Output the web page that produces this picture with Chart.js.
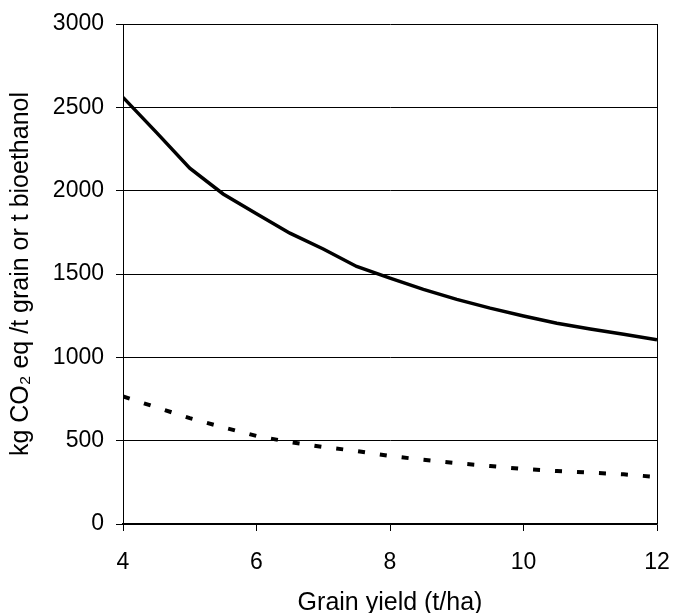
<!DOCTYPE html>
<html>
<head>
<meta charset="utf-8">
<script src="https://cdn.jsdelivr.net/npm/chart.js@4.4.0/dist/chart.umd.min.js"></script>
<style>
  body { margin: 0; background: #fff; }
  canvas { display: block; }
</style>
</head>
<body>
<canvas id="chart" width="673" height="613"></canvas>
<script>
// grain yield (t/ha)
const yields = [4, 4.5, 5, 5.5, 6, 6.5, 7, 7.5, 8, 8.5, 9, 9.5, 10, 10.5, 11, 11.5, 12];
// kg CO2 eq per t bioethanol (solid)
const perBioethanol = [2560, 2350, 2135, 1980, 1862, 1745, 1650, 1545, 1475, 1408, 1348, 1295, 1248, 1205, 1170, 1138, 1105];
// kg CO2 eq per t grain (dashed)
const perGrain = [765, 700, 635, 580, 528, 492, 462, 438, 408, 385, 365, 348, 330, 318, 308, 298, 282];

const xTicks = [4, 6, 8, 10, 12];

function pts(ys) {
  return yields.map((x, i) => ({ x: x, y: ys[i] }));
}

// right edge of the plot box
const frame = {
  id: 'frame',
  afterDraw(chart) {
    const a = chart.chartArea;
    const c = chart.ctx;
    c.save();
    c.strokeStyle = '#000';
    c.lineWidth = 1;
    c.beginPath();
    c.moveTo(a.right + 0.5, a.top);
    c.lineTo(a.right + 0.5, a.bottom);
    c.stroke();
    c.restore();
  }
};

const font = 'Liberation Sans, Arial, sans-serif';

new Chart(document.getElementById('chart').getContext('2d'), {
  type: 'line',
  data: {
    datasets: [
      {
        data: pts(perBioethanol),
        borderColor: '#000',
        borderWidth: 3.5,
        pointRadius: 0,
        tension: 0,
        fill: false
      },
      {
        data: pts(perGrain),
        borderColor: '#000',
        borderWidth: 4,
        borderDash: [7, 15],
        pointRadius: 0,
        tension: 0,
        fill: false
      }
    ]
  },
  options: {
    responsive: false,
    animation: false,
    layout: { padding: { left: 0, right: 16, top: 24, bottom: 0 } },
    plugins: { legend: { display: false }, tooltip: { enabled: false } },
    scales: {
      x: {
        type: 'linear',
        min: 4,
        max: 12,
        afterBuildTicks: s => { s.ticks = xTicks.map(v => ({ value: v })); },
        afterFit: s => { s.height = 89; s.paddingLeft = 0; s.paddingRight = 0; },
        grid: { drawOnChartArea: false, color: '#000', tickLength: 7 },
        border: { color: '#000', width: 1.5 },
        ticks: { color: '#000', font: { family: font, size: 23 }, padding: 18, maxRotation: 0, callback: v => String(v) },
        title: {
          display: true,
          text: 'Grain yield (t/ha)',
          color: '#000',
          font: { family: font, size: 25 },
          padding: { top: 4, bottom: -5 }
        }
      },
      y: {
        min: 0,
        max: 3000,
        ticks: { stepSize: 500, color: '#000', font: { family: font, size: 23 }, padding: 12, callback: v => String(v) },
        afterFit: s => { s.width = 123; s.paddingTop = 0; s.paddingBottom = 0; },
        grid: { color: '#000', lineWidth: 1, tickLength: 7 },
        border: { color: '#000', width: 1 },
        title: {
          display: true,
          text: 'kg CO₂ eq /t grain or t bioethanol',
          color: '#000',
          font: { family: font, size: 25 },
          padding: { top: 6, bottom: 4 }
        }
      }
    }
  },
  plugins: [frame]
});
</script>
</body>
</html>
